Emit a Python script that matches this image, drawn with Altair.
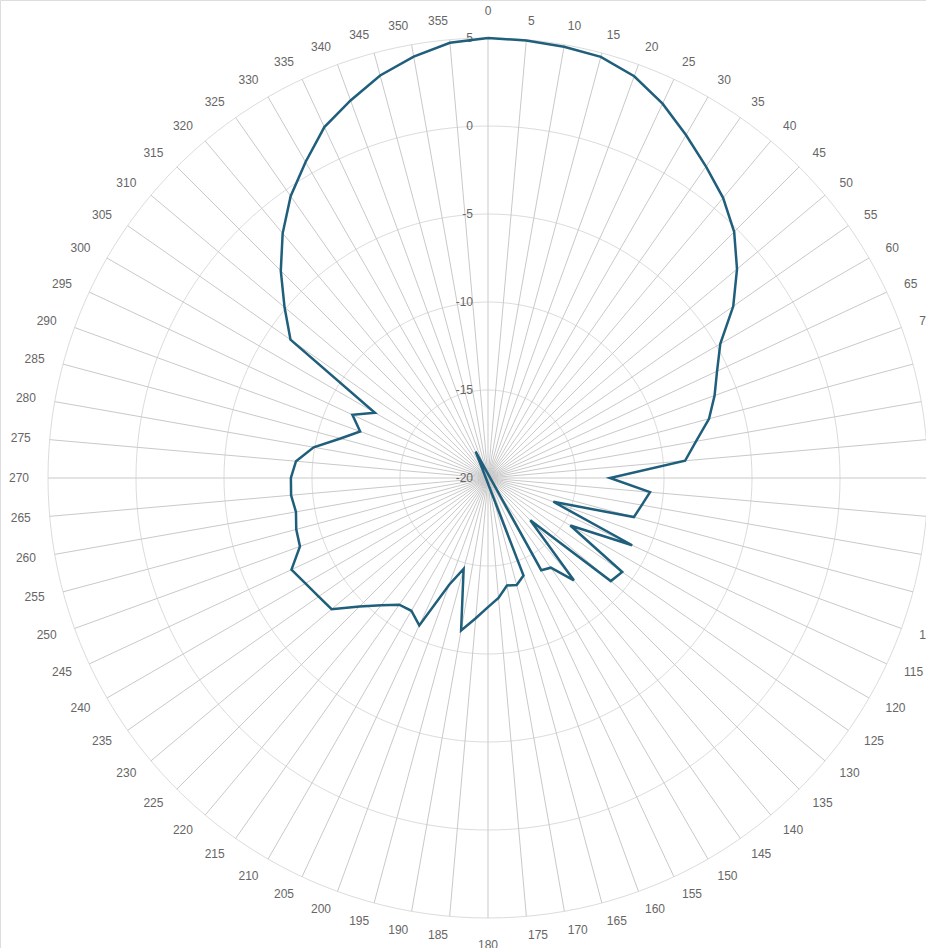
import altair as alt
import pandas as pd
import numpy as np

# ---- data -------------------------------------------------------------
angles = list(range(0, 360, 5))
values = [
    5.0, 4.95, 4.88, 4.77, 4.29, 3.47, 2.5, 1.6, 0.78, -0.22,      # 0-45
    -1.53, -2.99, -4.76, -5.64, -6.3, -7.0, -8.0, -8.76, -13.07,   # 50-90
    -10.76, -11.13, -11.42, -16.05, -10.96, -14.6, -10.69, -10.89,  # 95-130
    -16.6, -12.41, -13.78, -13.95, -21.66, -14.1, -13.7, -13.8,     # 135-170
    -13.16, -12.66, -12.0, -11.2, -14.65, -13.55, -10.76, -11.29,   # 175-210
    -11.21, -10.57, -9.68, -8.4, -8.26, -8.02, -7.68, -8.63,        # 215-250
    -8.72, -8.92, -8.77, -8.8, -9.05, -9.94, -11.32, -12.27,        # 255-290
    -11.5, -12.58, -6.3, -4.91, -3.35, -1.85, -0.45, 0.73,          # 295-330
    2.0, 2.83, 3.68, 4.31, 4.82,                                    # 335-355
]
angle_labels = [str(a) for a in angles]
radial_ticks = [-20, -15, -10, -5, 0, 5]
ring_values = [-15, -10, -5, 0, 5]

R_MIN, R_MAX = -20, 5

# ---- layout constants ---------------------------------------------------
W, H = 926, 948
CX, CY = 488, 478          # pixel position of the pole
PX = 17.6                  # pixels per radial unit
LABEL_R = 26.08            # radius (units) of angle labels
LABEL_R_POLE = 26.55

xs = alt.Scale(domain=[-CX / PX, (W - CX) / PX], nice=False, zero=False)
ys = alt.Scale(domain=[-(H - CY) / PX, CY / PX], nice=False, zero=False)

LINE_COLOR = "#1f5f7c"
GRID_COLOR = "#dcdcdc"
SPOKE_COLOR = "#c9c9c9"
TEXT_COLOR = "#666666"
FONT = "Liberation Sans"

# ---- tables -----------------------------------------------------------
series = pd.DataFrame({"angle": angles, "value": values, "order": range(len(angles))})
series = pd.concat(
    [series, pd.DataFrame({"angle": [360], "value": [values[0]], "order": [len(angles)]})],
    ignore_index=True,
)

ring_t = np.arange(0, 361, 2)
rings = pd.DataFrame(
    [(rv, t) for rv in ring_values for t in ring_t], columns=["ring", "t"]
)
spokes = pd.DataFrame({"angle": angles})
labels = pd.DataFrame({"angle": angles, "label": angle_labels})
ticks = pd.DataFrame({"tick": radial_ticks, "text": [str(t) for t in radial_ticks]})

X = lambda f: alt.X(f"{f}:Q", scale=xs, axis=None)
Y = lambda f: alt.Y(f"{f}:Q", scale=ys, axis=None)

ring_layer = (
    alt.Chart(rings)
    .transform_calculate(
        r=f"datum.ring - ({R_MIN})",
        x="datum.r * sin(datum.t * PI / 180)",
        y="datum.r * cos(datum.t * PI / 180)",
    )
    .mark_line(color=GRID_COLOR, strokeWidth=1)
    .encode(x=X("x"), y=Y("y"), detail="ring:N", order="t:Q")
)

spoke_layer = (
    alt.Chart(spokes)
    .transform_calculate(
        x0="0",
        y0="0",
        x1=f"{R_MAX - R_MIN} * sin(datum.angle * PI / 180)",
        y1=f"{R_MAX - R_MIN} * cos(datum.angle * PI / 180)",
    )
    .mark_rule(color=SPOKE_COLOR, strokeWidth=1)
    .encode(x=X("x0"), y=Y("y0"), x2="x1:Q", y2="y1:Q")
)


def angle_text(filter_expr, align, radius):
    return (
        alt.Chart(labels)
        .transform_filter(filter_expr)
        .transform_calculate(
            x=f"{radius} * sin(datum.angle * PI / 180)",
            y=f"{radius} * cos(datum.angle * PI / 180)",
        )
        .mark_text(align=align, baseline="middle", fontSize=12, font=FONT, color=TEXT_COLOR)
        .encode(x=X("x"), y=Y("y"), text="label:N")
    )


lab_right = angle_text("datum.angle > 0 && datum.angle < 180", "left", LABEL_R)
lab_left = angle_text("datum.angle > 180", "right", LABEL_R)
lab_pole = angle_text("datum.angle == 0 || datum.angle == 180", "center", LABEL_R_POLE)

tick_layer = (
    alt.Chart(ticks)
    .transform_calculate(x="0", y=f"datum.tick - ({R_MIN})")
    .mark_text(align="right", baseline="middle", dx=-15, fontSize=12, font=FONT, color=TEXT_COLOR)
    .encode(x=X("x"), y=Y("y"), text="text:N")
)

line_layer = (
    alt.Chart(series)
    .transform_calculate(
        r=f"datum.value - ({R_MIN})",
        x="datum.r * sin(datum.angle * PI / 180)",
        y="datum.r * cos(datum.angle * PI / 180)",
    )
    .mark_line(color=LINE_COLOR, strokeWidth=2.5, strokeJoin="miter")
    .encode(x=X("x"), y=Y("y"), order="order:Q")
)

chart = (
    alt.layer(ring_layer, spoke_layer, tick_layer, lab_right, lab_left, lab_pole, line_layer)
    .properties(width=W, height=H, padding=0, autosize=alt.AutoSizeParams(type="none"))
    .configure_view(stroke=None)
    .configure(background="white")
)

chart.save("out.html", embed_options={"renderer": "svg", "actions": False})
